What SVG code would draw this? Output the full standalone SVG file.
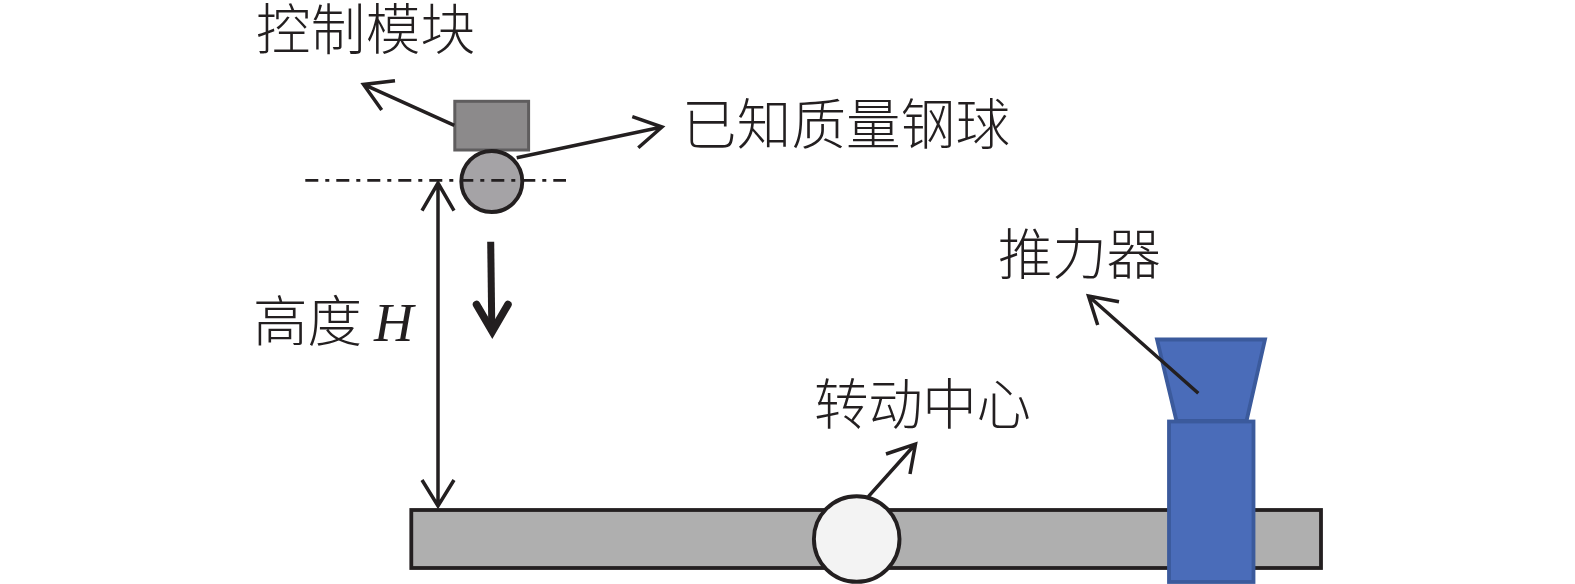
<svg xmlns="http://www.w3.org/2000/svg" width="1575" height="584" viewBox="0 0 1575 584">
<style>
.t{font-family:"Noto Sans CJK SC","Liberation Serif",serif;font-size:54.5px;fill:#231f20;font-weight:300}
.i{font-family:"Liberation Serif",serif;font-style:italic;font-size:54.5px}
.c{fill:none;stroke:#231f20;stroke-width:3.5;stroke-linecap:butt;stroke-linejoin:miter}
</style>
<rect width="1575" height="584" fill="#fff"/>
<g id="beam"><rect x="411.3" y="510" width="909.7" height="58" fill="#afafaf" stroke="#231f20" stroke-width="3.8"/></g>
<g id="pivot"><circle cx="856.7" cy="539" r="42.8" fill="#f3f3f3" stroke="#231f20" stroke-width="3.9"/></g>
<g id="thruster">
<polygon points="1157,339.5 1265,339.5 1246.5,421 1176.5,421" fill="#4a6cb9" stroke="#3b5a9c" stroke-width="3.8"/>
<rect x="1169" y="421.5" width="84.5" height="160.5" fill="#4a6cb9" stroke="#3b5a9c" stroke-width="3.8"/>
</g>
<g id="control-module"><rect x="454.8" y="101.3" width="73.8" height="48.7" fill="#8c8a8b" stroke="#5f5d5e" stroke-width="3"/></g>
<g id="ball"><circle cx="491.8" cy="181.5" r="30.5" fill="#a5a3a6" stroke="#231f20" stroke-width="3.9"/></g>
<g id="connectors">
<line x1="305.3" y1="180.3" x2="566" y2="180.3" stroke="#231f20" stroke-width="2.8" stroke-dasharray="13 7 4 7"/>
<path class="c" d="M454.3 125.3L363.5 84.4M395 80.7L363.5 84.4L381.7 110"/>
<path class="c" d="M516.7 157.7L662 127M632.3 116.7L662 127L638.3 147.7"/>
<path class="c" d="M438 183V506M422 210.7L438 183L454 210.7M422 480L438 506L454 480"/>
<path class="c" d="M868.3 496.7L915.5 444M886 454L915.5 444L910 474"/>
<path class="c" d="M1198.3 393.3L1088.5 296M1119 301.7L1088.5 296L1097.7 325"/>
<path d="M490.7 241.7L491.8 328" fill="none" stroke="#231f20" stroke-width="7"/>
<path d="M476.5 304.5L492.3 331.5L508 304.5" fill="none" stroke="#231f20" stroke-width="7.5" stroke-linecap="round"/>
</g>
<g id="label-control"><text class="t" x="256" y="49" textLength="219">控制模块</text></g>
<g id="label-ball"><text class="t" x="682" y="144" textLength="328">已知质量钢球</text></g>
<g id="label-thruster"><text class="t" x="998" y="274" textLength="163">推力器</text></g>
<g id="label-pivot"><text class="t" x="814" y="424" textLength="217">转动中心</text></g>
<g id="label-height"><text class="t" x="253" y="341">高度 <tspan class="i">H</tspan></text></g>
</svg>
